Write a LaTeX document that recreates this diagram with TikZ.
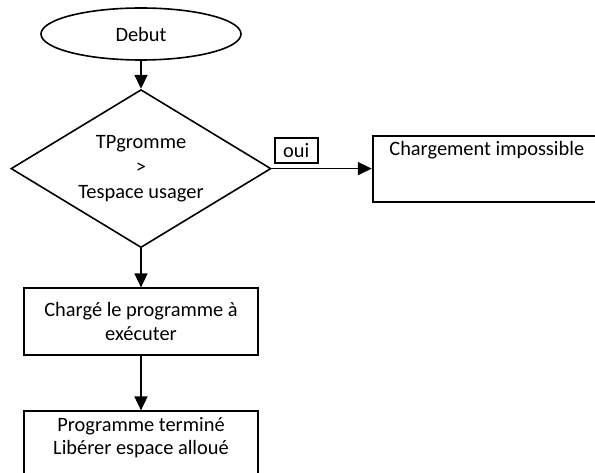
\documentclass[tikz,border=0pt]{standalone}
\usepackage{fontspec}
\setmainfont{Carlito}
\usepackage{tikz}
\usetikzlibrary{shapes.geometric, arrows.meta, positioning}

\begin{document}
\begin{tikzpicture}[x=1pt, y=-1pt, node distance=28pt,
    every node/.style={font=\fontsize{20.4}{24}\selectfont},
    debutnode/.style={ellipse, draw, line width=1.6pt, minimum width=200, minimum height=52, inner sep=0pt},
    testnode/.style={diamond, draw, line width=1.6pt, aspect=1.65, minimum width=260, minimum height=158, inner sep=0pt, align=center},
    boxnode/.style={rectangle, draw, line width=2pt, minimum width=234, inner sep=3pt, align=center},
    ouinode/.style={rectangle, draw, line width=1.6pt, minimum width=43, minimum height=25, inner sep=2pt},
    arr/.style={-{Triangle[length=14pt, width=13pt]}, line width=1.8pt}]
      \useasboundingbox (0,0) rectangle (595,473);
      \clip (0,0) rectangle (595,473);
      % nodes %
      \node[debutnode] (debut) at (141,34) {Debut};
      \node[testnode, below=28pt of debut] (test) {TPgromme\\[1pt]>\\[1pt]Tespace usager};
      \node[boxnode, right=100pt of test, minimum width=232, minimum height=66,
            label={[anchor=north, yshift=-3pt, xshift=-2pt]north:Chargement impossible}] (imposs) {};
      \node[boxnode, below=39pt of test, minimum height=67] (charge) {Chargé le programme à\\exécuter};
      \node[boxnode, below=54pt of charge, minimum height=76,
            label={[anchor=north, align=center, yshift=-3.5pt]north:Programme terminé\\[-1pt]Libérer espace alloué}] (fin) {};
      % edges %
      \draw[arr] (debut) -- (test);
      \draw[arr] (test.east) -- node[ouinode, pos=0.245, above=5pt] (oui) {oui} (imposs);
      \draw[arr] (test) -- (charge);
      \draw[arr] (charge) -- (fin);
\end{tikzpicture}
\end{document}
